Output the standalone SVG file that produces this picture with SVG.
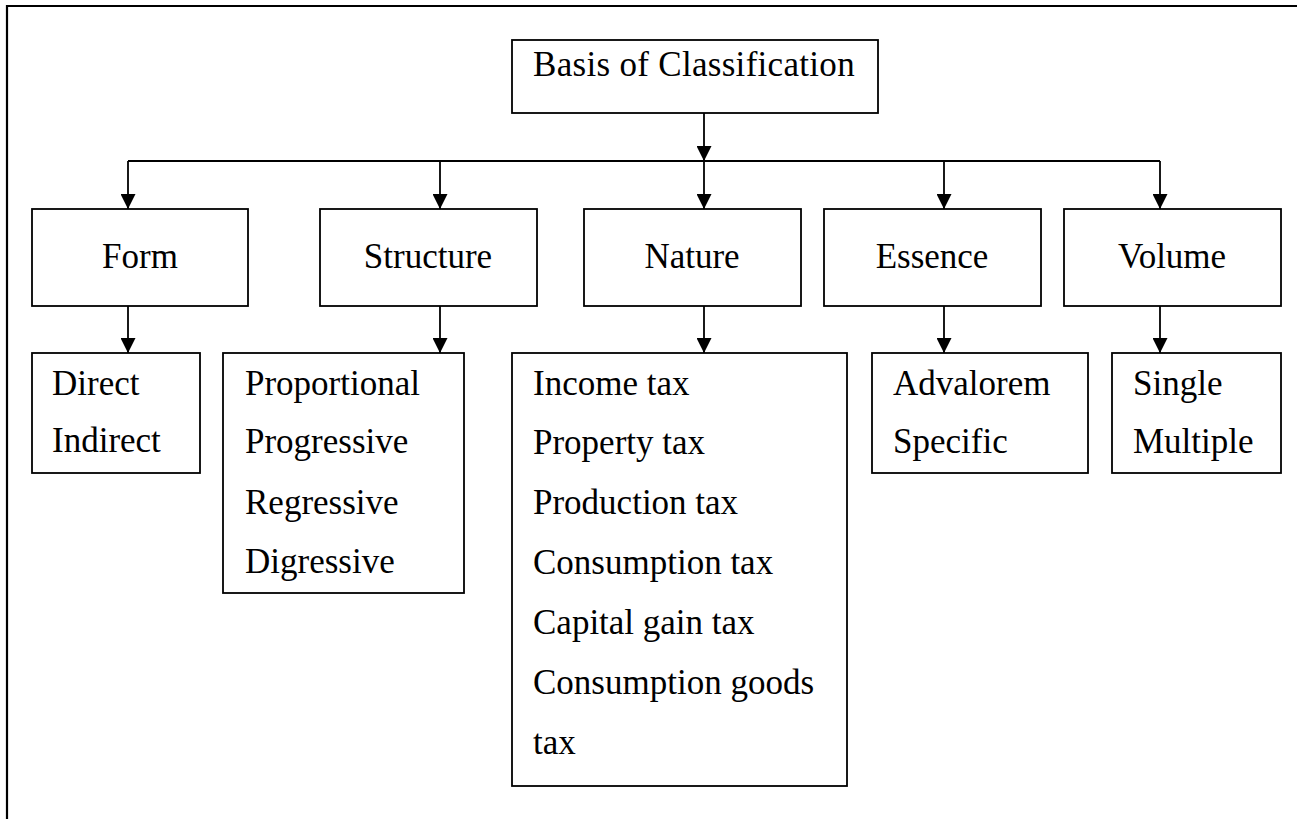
<svg xmlns="http://www.w3.org/2000/svg" width="1297" height="819" viewBox="0 0 1297 819">
<style>
.box{fill:#fff;stroke:#000;stroke-width:1.8}
.t{font-family:"Liberation Serif","Times New Roman",serif;font-size:35px;fill:#000}
.c{text-anchor:middle}
.ln{fill:none;stroke:#000;stroke-width:1.8}
.ar{fill:none;stroke:#000;stroke-width:1.8;marker-end:url(#ah)}
.bd{fill:none;stroke:#000;stroke-width:2.2}
</style>
<defs>
<marker id="ah" markerUnits="userSpaceOnUse" markerWidth="15" markerHeight="15" refX="15" refY="7.5" orient="auto" viewBox="0 0 15 15">
<path d="M0,0 L15,7.5 L0,15 Z" fill="#000"/>
</marker>
</defs>
<path class="bd" d="M1297,6 H7 V819"/>
<g id="connectors">
<path class="ar" d="M704,113 V161"/>
<path class="ln" d="M128,161 H1160"/>
<path class="ar" d="M128,161 V209"/>
<path class="ar" d="M440,161 V209"/>
<path class="ar" d="M704,161 V209"/>
<path class="ar" d="M944,161 V209"/>
<path class="ar" d="M1160,161 V209"/>
<path class="ar" d="M128,306 V353"/>
<path class="ar" d="M440,306 V353"/>
<path class="ar" d="M704,306 V353"/>
<path class="ar" d="M944,306 V353"/>
<path class="ar" d="M1160,306 V353"/>
</g>
<g id="root">
<rect class="box" x="512" y="40" width="366" height="73"/>
<text class="t c" x="694" y="76" letter-spacing="0.3">Basis of Classification</text>
</g>
<g id="form">
<rect class="box" x="32" y="209" width="216" height="97"/>
<text class="t c" x="140" y="268">Form</text>
</g>
<g id="structure">
<rect class="box" x="320" y="209" width="217" height="97"/>
<text class="t c" x="428" y="268">Structure</text>
</g>
<g id="nature">
<rect class="box" x="584" y="209" width="217" height="97"/>
<text class="t c" x="692" y="268">Nature</text>
</g>
<g id="essence">
<rect class="box" x="824" y="209" width="217" height="97"/>
<text class="t c" x="932" y="268">Essence</text>
</g>
<g id="volume">
<rect class="box" x="1064" y="209" width="217" height="97"/>
<text class="t c" x="1172" y="268">Volume</text>
</g>
<g id="form-items">
<rect class="box" x="32" y="353" width="168" height="120"/>
<text class="t" x="52" y="395">Direct</text>
<text class="t" x="52" y="452">Indirect</text>
</g>
<g id="structure-items">
<rect class="box" x="223" y="353" width="241" height="240"/>
<text class="t" x="245" y="395">Proportional</text>
<text class="t" x="245" y="453">Progressive</text>
<text class="t" x="245" y="514">Regressive</text>
<text class="t" x="245" y="573">Digressive</text>
</g>
<g id="nature-items">
<rect class="box" x="512" y="353" width="335" height="433"/>
<text class="t" x="533" y="395">Income tax</text>
<text class="t" x="533" y="454">Property tax</text>
<text class="t" x="533" y="514">Production tax</text>
<text class="t" x="533" y="574">Consumption tax</text>
<text class="t" x="533" y="634">Capital gain tax</text>
<text class="t" x="533" y="694">Consumption goods</text>
<text class="t" x="533" y="754">tax</text>
</g>
<g id="essence-items">
<rect class="box" x="872" y="353" width="216" height="120"/>
<text class="t" x="893" y="395">Advalorem</text>
<text class="t" x="893" y="453">Specific</text>
</g>
<g id="volume-items">
<rect class="box" x="1112" y="353" width="169" height="120"/>
<text class="t" x="1133" y="395">Single</text>
<text class="t" x="1133" y="453">Multiple</text>
</g>
</svg>
